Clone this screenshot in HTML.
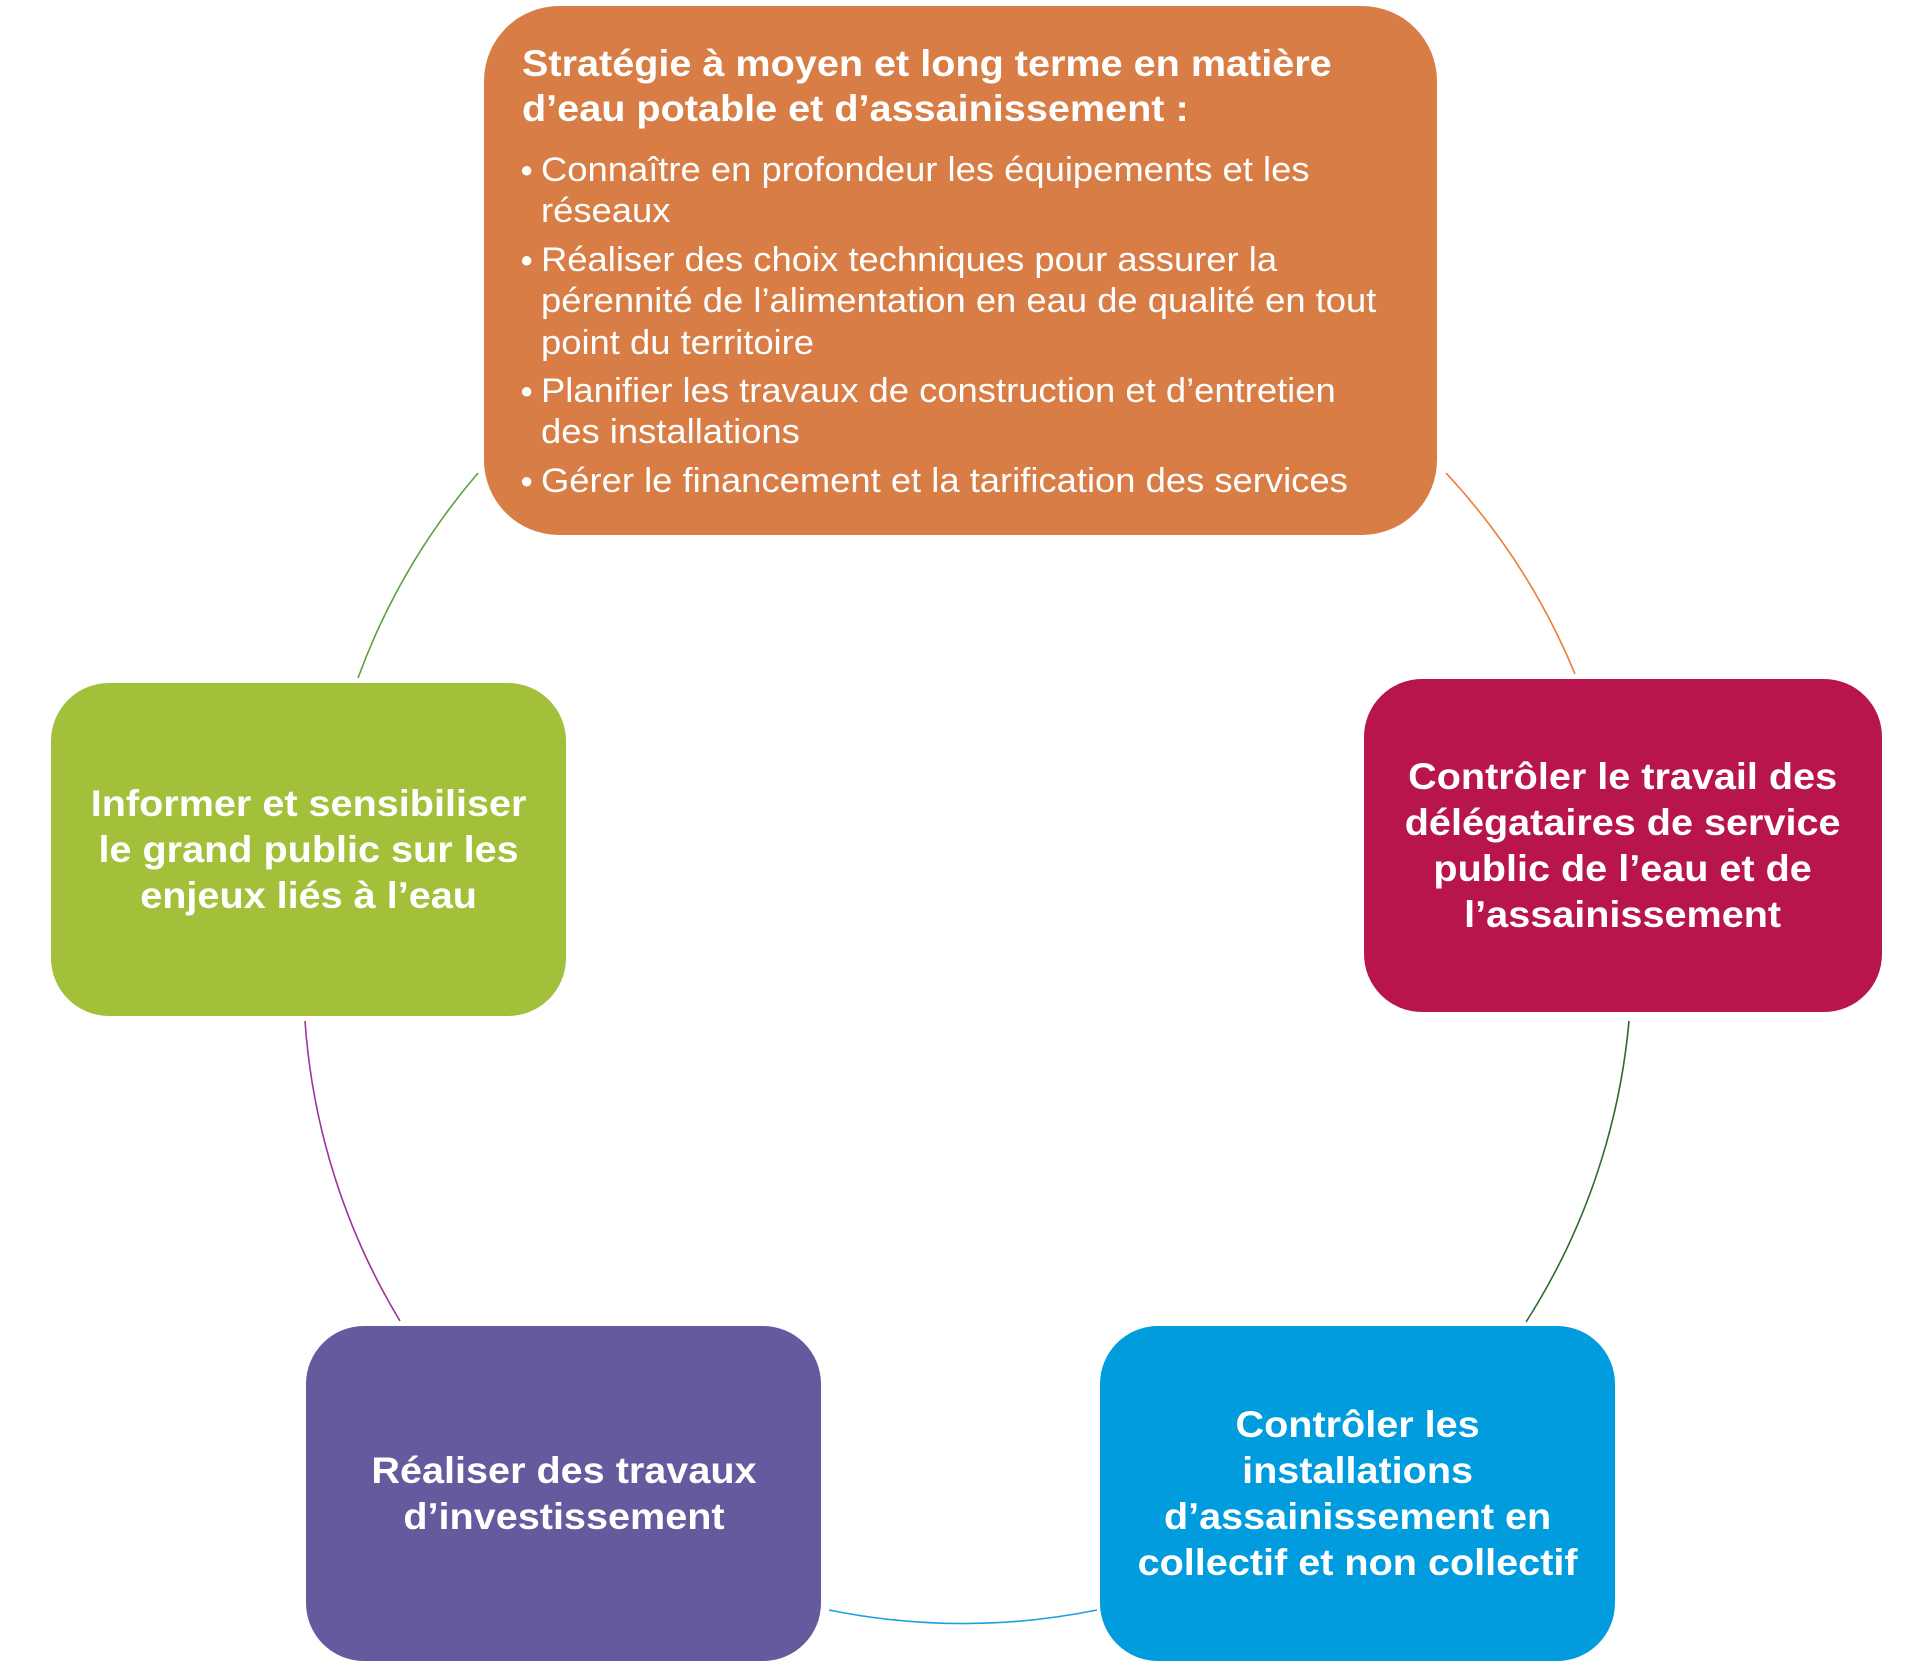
<!DOCTYPE html>
<html><head><meta charset="utf-8"><style>
body{margin:0;width:1920px;height:1663px;background:#fff;position:relative;overflow:hidden;font-family:"Liberation Sans",sans-serif;color:#fff}
.b{position:absolute;border-radius:58px;display:flex;align-items:center;justify-content:center;text-align:center;font-weight:bold;font-size:37px;line-height:46px}
.b span{display:inline-block;transform:scaleX(1.07)}
#top{position:absolute;left:484px;top:6px;width:953px;height:529px;background:#d77d45;border-radius:75px}
.t{position:absolute;left:522px;font-weight:bold;font-size:37px;line-height:45px;white-space:nowrap;transform:scaleX(1.07);transform-origin:left}
.l{position:absolute;left:541px;font-size:34px;line-height:42px;white-space:nowrap;transform:scaleX(1.07);transform-origin:left}
.d{position:absolute;left:520px;font-size:22px;line-height:42px}
</style></head><body>
<svg width="1920" height="1663" style="position:absolute;left:0;top:0" fill="none" stroke-width="1.6">
<path d="M478 473 A670 670 0 0 0 358 678" stroke="#5ea03a"/>
<path d="M1446 473 A670 670 0 0 1 1575 674" stroke="#ed7d31"/>
<path d="M1629 1021 A670 670 0 0 1 1526 1322" stroke="#2e6b2e"/>
<path d="M1097 1610 A670 670 0 0 1 829 1610" stroke="#1ba1e2"/>
<path d="M400 1321 A670 670 0 0 1 305 1021" stroke="#a0309a"/>
</svg>
<div id="top"></div>
<div class="t" style="top:41px">Stratégie à moyen et long terme en matière</div>
<div class="t" style="top:86px">d’eau potable et d’assainissement :</div>
<div class="l" style="top:149px">Connaître en profondeur les équipements et les</div>
<div class="l" style="top:190px">réseaux</div>
<div class="l" style="top:239px">Réaliser des choix techniques pour assurer la</div>
<div class="l" style="top:280px">pérennité de l’alimentation en eau de qualité en tout</div>
<div class="l" style="top:322px">point du territoire</div>
<div class="l" style="top:370px">Planifier les travaux de construction et d’entretien</div>
<div class="l" style="top:411px">des installations</div>
<div class="l" style="top:460px">Gérer le financement et la tarification des services</div>
<div class="d" style="top:149px">●</div>
<div class="d" style="top:239px">●</div>
<div class="d" style="top:370px">●</div>
<div class="d" style="top:460px">●</div>
<div class="b" style="left:51px;top:683px;width:515px;height:333px;background:#a3c03a"><span>Informer et sensibiliser<br>le grand public sur les<br>enjeux liés à l’eau</span></div>
<div class="b" style="left:1364px;top:679px;width:518px;height:333px;background:#b8154f"><span>Contrôler le travail des<br>délégataires de service<br>public de l’eau et de<br>l’assainissement</span></div>
<div class="b" style="left:1100px;top:1326px;width:515px;height:335px;background:#009cdd"><span>Contrôler les<br>installations<br>d’assainissement en<br>collectif et non collectif</span></div>
<div class="b" style="left:306px;top:1326px;width:515px;height:335px;background:#645a9e"><span>Réaliser des travaux<br>d’investissement</span></div>
</body></html>
